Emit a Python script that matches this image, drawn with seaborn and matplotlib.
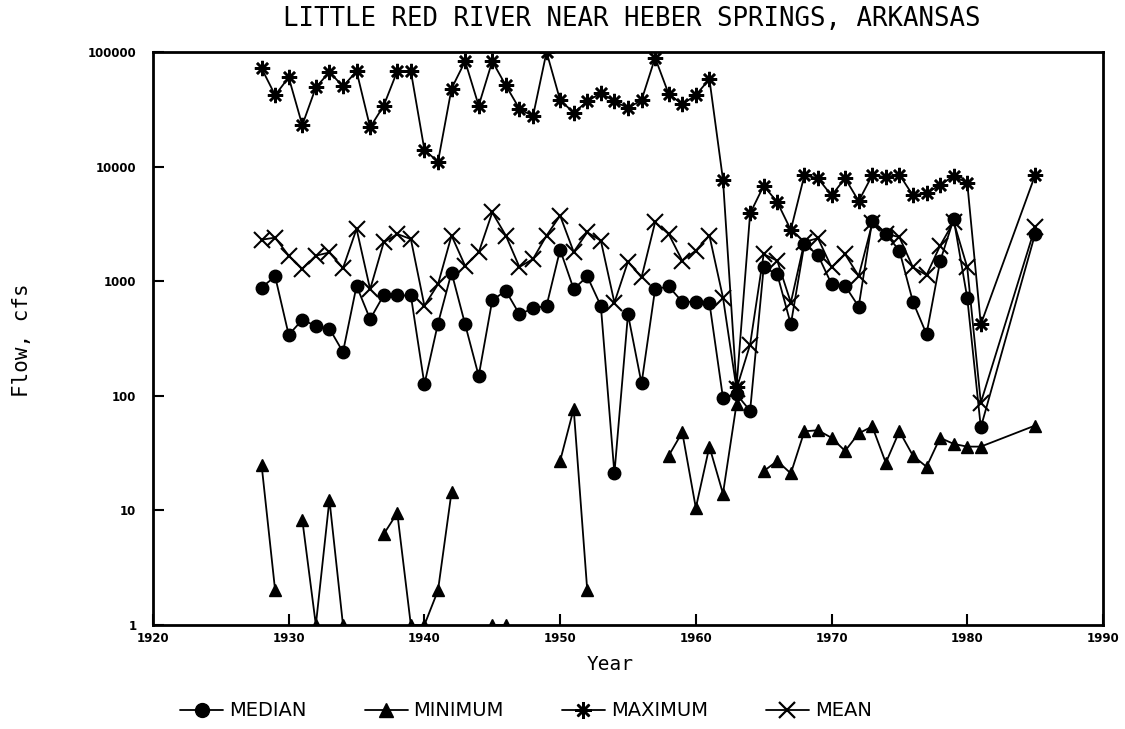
import numpy as np
import pandas as pd
import matplotlib.pyplot as plt
import seaborn as sns
from matplotlib.lines import Line2D

years = list(range(1928, 1982)) + [1985]

median_cfs = [880, 1100, 340, 460, 407, 386, 241, 910, 466, 755,
              750, 750, 126, 427, 1190, 420, 149, 683, 824, 515,
              578, 610, 1880, 853, 1100, 610, 21, 515, 128, 853,
              900, 660, 660, 650, 96, 103, 74, 1320, 1150, 420,
              2110, 1690, 944, 910, 600, 3380, 2580, 1850, 660, 345,
              1490, 3490, 715, 53, 2580]

minimum_cfs = [25, 2, np.nan, 8.3, 1, 12.4, 1, np.nan, np.nan, 6.2,
               9.5, 1, 1, 2, 14.5, np.nan, np.nan, 1, 1, np.nan,
               np.nan, np.nan, 27, 77, 2, np.nan, np.nan, np.nan, np.nan, np.nan,
               30, 48, 10.5, 36, 14, 85, np.nan, 22, 27, 21,
               49, 50, 43, 33, 47, 54, 26, 49, 30, 24,
               43, 38, 36, 36, 55]

maximum_cfs = [72000, 42000, 60000, 23000, 49000, 67000, 50000, 68000, 22000, 34000,
               68000, 68000, 14000, 11000, 48000, 83000, 34000, 83000, 51000, 32000,
               27500, 100000, 38000, 29500, 37000, 44000, 37000, 32500, 38000, 89000,
               43000, 35000, 42000, 58000, 7700, 120, 3900, 6800, 4900, 2800,
               8400, 7900, 5600, 7900, 5000, 8400, 8100, 8500, 5600, 5900,
               6900, 8300, 7200, 420, 8400]

mean_cfs = [2300, 2400, 1670, 1280, 1670, 1780, 1300, 2860, 850, 2180,
            2580, 2330, 610, 940, 2500, 1360, 1780, 3980, 2500, 1330,
            1560, 2500, 3730, 1800, 2670, 2260, 650, 1480, 1080, 3270,
            2580, 1510, 1850, 2500, 720, 115, 280, 1720, 1510, 650,
            2200, 2370, 1320, 1720, 1110, 3200, 2600, 2420, 1320, 1130,
            2040, 3300, 1320, 87, 2950]

tick_years = [1920, 1930, 1940, 1950, 1960, 1970, 1980, 1990]
tick_flows = [1, 10, 100, 1000, 10000, 100000]

df = pd.DataFrame({"year": years, "median": median_cfs, "minimum": minimum_cfs,
                   "maximum": maximum_cfs, "mean": mean_cfs})
# gaps in the minimum record break the line -> one unit per run
df["seg"] = df["minimum"].isna().cumsum()

# === Style ===
sns.set_style("white")
plt.rcParams["font.family"] = ["DejaVu Sans"]
plt.rcParams.update({"text.color": "black", "axes.labelcolor": "black",
                     "xtick.color": "black", "ytick.color": "black"})

fig = plt.figure(figsize=(11.25, 7.29), dpi=100)
ax = fig.add_axes([0.136, 0.1427, 0.8444, 0.786])

line_kw = dict(color="black", linewidth=1.3, estimator=None, errorbar=None,
               legend=False, ax=ax, markeredgecolor="black")

sns.lineplot(data=df, x="year", y="maximum", marker=(8, 2, 0), markersize=11,
             markeredgewidth=1.8, **line_kw)
sns.lineplot(data=df, x="year", y="mean", marker="x", markersize=11,
             markeredgewidth=1.5, **line_kw)
sns.lineplot(data=df, x="year", y="median", marker="o", markersize=9,
             markerfacecolor="black", markeredgewidth=1, **line_kw)
sns.lineplot(data=df.dropna(subset=["minimum"]), x="year", y="minimum", units="seg",
             marker="^", markersize=9, markerfacecolor="black",
             markeredgewidth=1, **line_kw)

ax.set_yscale("log")
ax.set_xlim(1920, 1990)
ax.set_ylim(1, 100000)
ax.set_xticks(tick_years)
ax.set_xticklabels([str(t) for t in tick_years], fontweight="bold")
ax.set_yticks(tick_flows)
ax.set_yticklabels([str(t) for t in tick_flows], fontweight="bold")
ax.minorticks_off()
ax.tick_params(axis="both", direction="in", length=8, width=1.5, labelsize=8.5,
               bottom=True, left=True, top=False, right=False)
ax.tick_params(axis="y", pad=12)
ax.tick_params(axis="x", pad=5)
ax.set_xlabel("")
ax.set_ylabel("")
for s in ax.spines.values():
    s.set_linewidth(2)
    s.set_color("black")

# === Text ===
fig.text(632 / 1125, 1 - 19 / 729, "LITTLE RED RIVER NEAR HEBER SPRINGS, ARKANSAS",
         ha="center", va="center", fontsize=18.5, family="DejaVu Sans Mono")
fig.text(610 / 1125, 1 - 664 / 729, "Year", ha="center", va="center",
         fontsize=14, family="DejaVu Sans Mono")
fig.text(22 / 1125, 1 - 340 / 729, "Flow, cfs", ha="center", va="center",
         rotation=90, fontsize=15, family="DejaVu Sans Mono")

# === Legend ===
handles = [
    Line2D([], [], color="black", lw=1.3, marker="o", ms=10, mfc="black", mec="black"),
    Line2D([], [], color="black", lw=1.3, marker="^", ms=10, mfc="black", mec="black"),
    Line2D([], [], color="black", lw=1.3, marker=(8, 2, 0), ms=12, mew=1.8, mec="black"),
    Line2D([], [], color="black", lw=1.3, marker="x", ms=12, mew=1.6, mec="black"),
]
labels = ["MEDIAN", "MINIMUM", "MAXIMUM", "MEAN"]
fig.legend(handles, labels, loc="center", bbox_to_anchor=(526 / 1125, 1 - 711 / 729),
           ncol=4, frameon=False, handlelength=2.2, handletextpad=0.3,
           columnspacing=3.0, fontsize=14)

fig.savefig("out.png", dpi=100)
